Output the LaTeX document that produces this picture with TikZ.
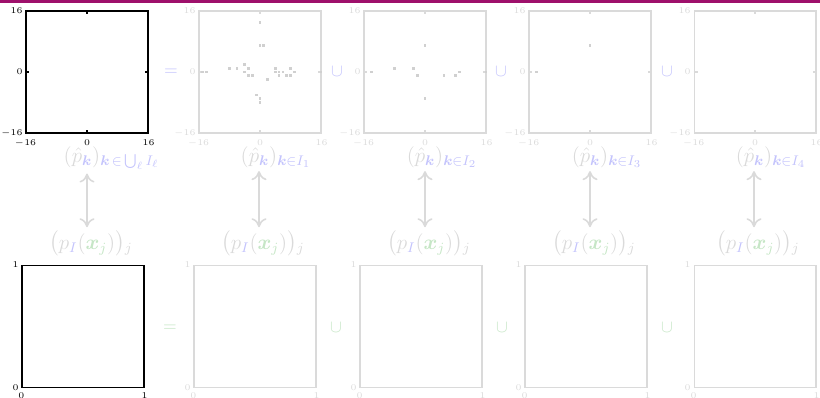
\documentclass[tikz,border=0pt]{standalone}
\usepackage{amsmath,amssymb}
\usepackage{mathtools}
\usepackage{bm}
\usepackage{xcolor}
\usetikzlibrary{positioning,arrows.meta}
\definecolor{frameMagenta}{RGB}{158,16,107}
\definecolor{fadeGrey}{RGB}{218,218,218}
\definecolor{dotGrey}{RGB}{208,208,208}
\definecolor{fadeBlue}{RGB}{196,196,252}
\definecolor{fadeGreen}{RGB}{198,230,198}

\begin{document}
\begin{tikzpicture}[
    x=0.02cm, y=-0.02cm,
    panel/.style={rectangle, draw=fadeGrey, line width=0.6pt, minimum size=2.44cm, inner sep=0pt},
    mainpanel/.style={panel, draw=black},
    ticklabel/.style={font=\fontsize{5.5}{6}\selectfont, inner sep=1.5pt},
    coeflabel/.style={font=\large, text=fadeGrey, anchor=base, inner sep=2pt},
    opsym/.style={font=\normalsize, inner sep=0pt},
    updown/.style={{Computer Modern Rightarrow[width=3mm,length=1.8mm]}-{Computer Modern Rightarrow[width=3mm,length=1.8mm]}, fadeGrey, line width=0.9pt}
]
\useasboundingbox (0,0) rectangle (820,397);

% Frame bar
\fill[frameMagenta] (0,0) rectangle (820,2.5);

% Top row: coefficient panels
\node[mainpanel] (fAll) at (87,72) {};
\node[panel] (fOne) at (260,72) {};
\node[panel] (fTwo) at (425,72) {};
\node[panel] (fThree) at (590,72) {};
\node[panel] (fFour) at (755,72) {};

\foreach \name/\col in {fAll/black, fOne/fadeGrey, fTwo/fadeGrey, fThree/fadeGrey, fFour/fadeGrey} {
  \draw[\col, line width=0.6pt] (\name.north) -- ++(0,4) (\name.south) -- ++(0,-4)
      (\name.west) -- ++(4,0) (\name.east) -- ++(-4,0);
  \node[ticklabel, text=\col, anchor=east] at (\name.north west) {$16$};
  \node[ticklabel, text=\col, anchor=east] at (\name.west) {$0$};
  \node[ticklabel, text=\col, anchor=east] at (\name.south west) {$-16$};
  \node[ticklabel, text=\col, anchor=north] at ([yshift=-2pt]\name.south west) {$-16$};
  \node[ticklabel, text=\col, anchor=north] at ([yshift=-2pt]\name.south) {$0$};
  \node[ticklabel, text=\col, anchor=north] at ([yshift=-2pt]\name.south east) {$16$};
}

% Nonzero coefficients
\begin{scope}[shift={(fOne.center)}, x=0.07625cm, y=0.07625cm]
  \foreach \u/\v in {0/13, 0/7, 1/7, -15/0, -14/0, -8/1, -6/1, -4/2, -3/1, -4/0, -3/-1, -2/-1,
      2/-2, -1/-6, 0/-7, 0/-8, 4/1, 4/0, 5/0, 6/0, 5/-1, 7/-1, 8/-1, 8/1, 9/0, 16/0}
    \fill[dotGrey] (\u-0.35,\v-0.35) rectangle ++(0.7,0.7);
\end{scope}
\begin{scope}[shift={(fTwo.center)}, x=0.07625cm, y=0.07625cm]
  \foreach \u/\v in {0/7, -14/0, -8/1, -3/1, -2/-1, 5/-1, 8/-1, 9/0, 0/-7, 16/0}
    \fill[dotGrey] (\u-0.35,\v-0.35) rectangle ++(0.7,0.7);
\end{scope}
\begin{scope}[shift={(fThree.center)}, x=0.07625cm, y=0.07625cm]
  \foreach \u/\v in {0/7, -14/0}
    \fill[dotGrey] (\u-0.35,\v-0.35) rectangle ++(0.7,0.7);
\end{scope}

% Operators, top row
\node[opsym, text=fadeBlue] (eqTop) at (171,72) {$=$};
\node[opsym, text=fadeBlue] (cupTopA) at (337,72) {$\cup$};
\node[opsym, text=fadeBlue] (cupTopB) at (501,72) {$\cup$};
\node[opsym, text=fadeBlue] (cupTopC) at (667,72) {$\cup$};

% Bottom row: value panels
\node[mainpanel] (gAll) at (83,326.5) {};
\node[panel] (gOne) at (255,326.5) {};
\node[panel] (gTwo) at (421,326.5) {};
\node[panel] (gThree) at (586,326.5) {};
\node[panel] (gFour) at (755,326.5) {};

\foreach \name/\col in {gAll/black, gOne/fadeGrey, gTwo/fadeGrey, gThree/fadeGrey, gFour/fadeGrey} {
  \node[ticklabel, text=\col, anchor=east] at (\name.north west) {$1$};
  \node[ticklabel, text=\col, anchor=east] at (\name.south west) {$0$};
  \node[ticklabel, text=\col, anchor=north] at ([yshift=-1pt]\name.south west) {$0$};
  \node[ticklabel, text=\col, anchor=north] at ([yshift=-1pt]\name.south east) {$1$};
}

% Operators, bottom row
\node[opsym, text=fadeGreen] (eqBot) at (170,328) {$=$};
\node[opsym, text=fadeGreen] (cupBotA) at (336,328) {$\cup$};
\node[opsym, text=fadeGreen] (cupBotB) at (502,328) {$\cup$};
\node[opsym, text=fadeGreen] (cupBotC) at (667,328) {$\cup$};

% Coefficient labels
\node[coeflabel] (hatAll) at (82,162) {$(\hat p_{\textcolor{fadeBlue}{\bm k}})\mathrlap{_{\textcolor{fadeBlue}{\bm k\,\in\,\bigcup_\ell I_\ell}}}$};
\node[coeflabel] (hatOne) at (259,162) {$(\hat p_{\textcolor{fadeBlue}{\bm k}})\mathrlap{_{\textcolor{fadeBlue}{\bm k\in I_1}}}$};
\node[coeflabel] (hatTwo) at (425,162) {$(\hat p_{\textcolor{fadeBlue}{\bm k}})\mathrlap{_{\textcolor{fadeBlue}{\bm k\in I_2}}}$};
\node[coeflabel] (hatThree) at (590,162) {$(\hat p_{\textcolor{fadeBlue}{\bm k}})\mathrlap{_{\textcolor{fadeBlue}{\bm k\in I_3}}}$};
\node[coeflabel] (hatFour) at (754,162) {$(\hat p_{\textcolor{fadeBlue}{\bm k}})\mathrlap{_{\textcolor{fadeBlue}{\bm k\in I_4}}}$};

% Value labels
\node[coeflabel] (valAll) at (87,249) {$\bigl(p_{\textcolor{fadeBlue}{I}}(\textcolor{fadeGreen}{\bm x_j})\bigr)\mathrlap{_j}$};
\node[coeflabel] (valOne) at (259,249) {$\bigl(p_{\textcolor{fadeBlue}{I}}(\textcolor{fadeGreen}{\bm x_j})\bigr)\mathrlap{_j}$};
\node[coeflabel] (valTwo) at (425,249) {$\bigl(p_{\textcolor{fadeBlue}{I}}(\textcolor{fadeGreen}{\bm x_j})\bigr)\mathrlap{_j}$};
\node[coeflabel] (valThree) at (590,249) {$\bigl(p_{\textcolor{fadeBlue}{I}}(\textcolor{fadeGreen}{\bm x_j})\bigr)\mathrlap{_j}$};
\node[coeflabel] (valFour) at (754,249) {$\bigl(p_{\textcolor{fadeBlue}{I}}(\textcolor{fadeGreen}{\bm x_j})\bigr)\mathrlap{_j}$};

% Correspondences
\draw[updown] (valAll.north |- hatAll.south) -- (valAll.north);
\draw[updown] (hatOne) -- (valOne);
\draw[updown] (hatTwo) -- (valTwo);
\draw[updown] (hatThree) -- (valThree);
\draw[updown] (hatFour) -- (valFour);

\end{tikzpicture}
\end{document}
